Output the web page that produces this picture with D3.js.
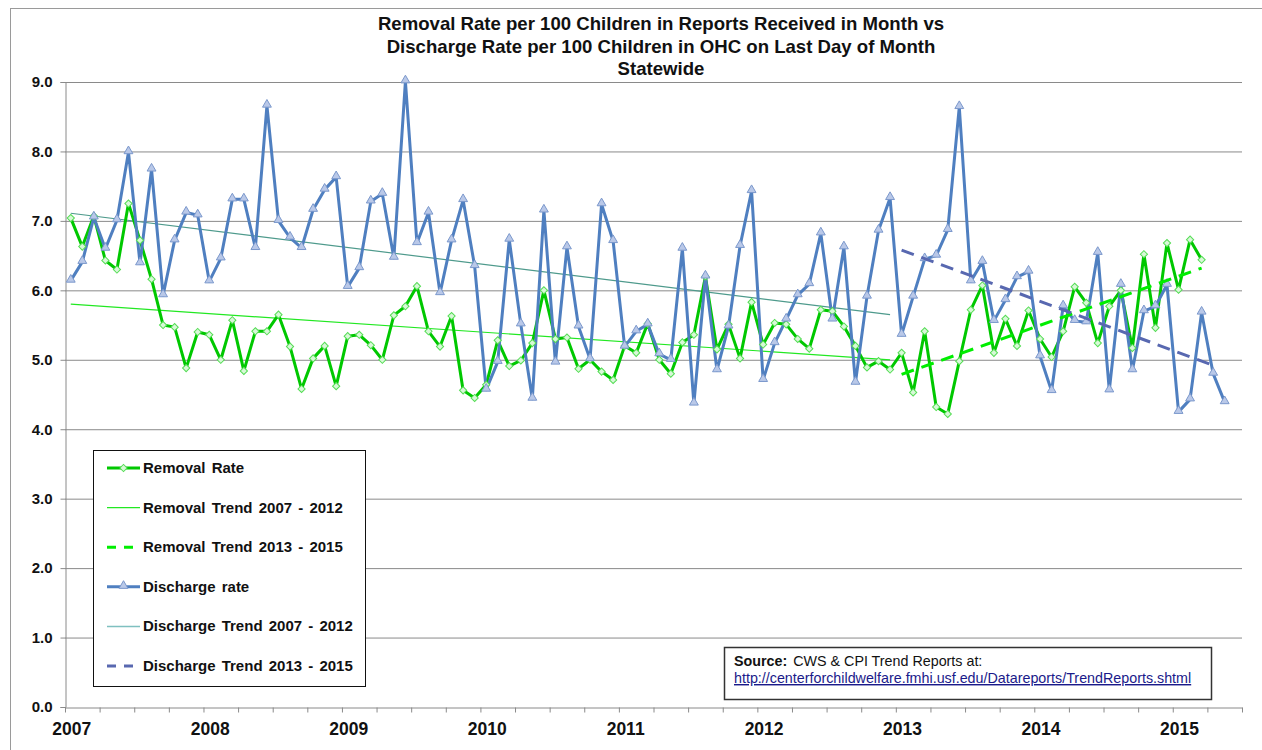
<!DOCTYPE html>
<html>
<head>
<meta charset="utf-8">
<script src="https://cdn.jsdelivr.net/npm/d3@7"></script>
<style>
  html, body { margin: 0; padding: 0; background: #fff; }
  svg { display: block; font-family: "Liberation Sans", Arial, sans-serif; }
</style>
</head>
<body>
<svg id="chart" width="1262" height="750"></svg>
<script>
// ---------------- DATA ----------------
const titleLines = [
  "Removal Rate per 100 Children in Reports Received in Month vs",
  "Discharge Rate per 100 Children in OHC on Last Day of Month",
  "Statewide"
];
const monthCount = 102; // Jan 2007 .. Jun 2015 on the axis
const yearLabels = ["2007", "2008", "2009", "2010", "2011", "2012", "2013", "2014", "2015"];
const yTicks = [0, 1, 2, 3, 4, 5, 6, 7, 8, 9];

// Removal Rate, Jan 2007 .. Mar 2015
const removalRate = [
  7.04, 6.63, 7.07, 6.43, 6.30, 7.25, 6.72, 6.16, 5.50, 5.47, 4.88, 5.40,
  5.36, 5.00, 5.57, 4.84, 5.41, 5.41, 5.65, 5.19, 4.58, 5.02, 5.20, 4.62,
  5.34, 5.36, 5.21, 5.00, 5.64, 5.77, 6.06, 5.41, 5.19, 5.63, 4.56, 4.45,
  4.64, 5.28, 4.91, 4.99, 5.24, 6.00, 5.30, 5.32, 4.87, 5.00, 4.83, 4.71,
  5.20, 5.10, 5.52, 5.00, 4.80, 5.25, 5.36, 6.20, 5.15, 5.51, 5.02, 5.83,
  5.22, 5.53, 5.51, 5.30, 5.16, 5.72, 5.70, 5.48, 5.20, 4.89, 4.98, 4.86,
  5.10, 4.53, 5.41, 4.32, 4.22, 4.98, 5.72, 6.07, 5.10, 5.59, 5.20, 5.71,
  5.30, 5.04, 5.41, 6.05, 5.82, 5.24, 5.77, 6.00, 5.17, 6.52, 5.46, 6.68,
  6.01, 6.73, 6.44
];
// Discharge rate, Jan 2007 .. May 2015
const dischargeRate = [
  6.14, 6.41, 7.05, 6.60, 7.01, 7.99, 6.39, 7.74, 5.93, 6.72, 7.12, 7.08,
  6.13, 6.46, 7.31, 7.31, 6.61, 8.66, 7.00, 6.76, 6.61, 7.16, 7.45, 7.63,
  6.05, 6.32, 7.28, 7.39, 6.47, 9.01, 6.68, 7.12, 5.96, 6.72, 7.30, 6.35,
  4.57, 4.97, 6.73, 5.51, 4.44, 7.15, 4.96, 6.62, 5.48, 5.01, 7.24, 6.71,
  5.19, 5.41, 5.51, 5.08, 5.00, 6.60, 4.37, 6.20, 4.85, 5.48, 6.64, 7.43,
  4.71, 5.24, 5.58, 5.93, 6.09, 6.82, 5.58, 6.62, 4.67, 5.91, 6.86, 7.33,
  5.36, 5.91, 6.45, 6.50, 6.87, 8.64, 6.13, 6.41, 5.56, 5.86, 6.19, 6.27,
  5.05, 4.55, 5.77, 5.56, 5.54, 6.54, 4.56, 6.08, 4.85, 5.70, 5.77, 6.08,
  4.25, 4.43, 5.68, 4.80, 4.39
];
// Trend lines: [start month index, end month index] and values at those months
const removalTrend0712Months = [0, 71];
const removalTrend0712 = [5.80, 5.00];
const removalTrend1315Months = [72, 98];
const removalTrend1315 = [4.79, 6.32];
const dischargeTrend0712Months = [0, 71];
const dischargeTrend0712 = [7.11, 5.65];
const dischargeTrend1315Months = [72, 99];
const dischargeTrend1315 = [6.58, 4.92];

const legendLabels = [
  "Removal Rate", "Removal Trend 2007 - 2012", "Removal Trend 2013 - 2015",
  "Discharge rate", "Discharge Trend 2007 - 2012", "Discharge Trend 2013 - 2015"
];
const sourceLabel = "Source:";
const sourceText = "CWS & CPI Trend Reports at:";
const sourceUrl = "http://centerforchildwelfare.fmhi.usf.edu/Datareports/TrendReports.shtml";

// ---------------- CHART ----------------
(function () {
const svg = d3.select("#chart");
const pLeft = 65, pRight = 1242, pTop = 82, pBottom = 707;

const xEdge = d3.scaleLinear().domain([0, monthCount]).range([pLeft, pRight]);
const xc = i => xEdge(i + 0.5);
const y = d3.scaleLinear().domain([0, 9]).range([pBottom, pTop]);

const C = {
  green: "#00c800",
  greenTrend: "#22e822",
  greenDash: "#00ee00",
  blue: "#4f7fc0",
  blueTrend: "#4e9a8c",
  blueDash: "#5868b0",
  grid: "#8a8a8a"
};

// chart outer border
svg.append("rect").attr("x", 10.5).attr("y", 8.5).attr("width", 1270).attr("height", 780)
  .attr("fill", "none").attr("stroke", "#9a9a9a").attr("stroke-width", 1);

// title
svg.append("g").selectAll("text").data(titleLines).join("text")
  .attr("x", 661).attr("y", (d, i) => 30 + i * 22.5)
  .attr("text-anchor", "middle").attr("font-weight", "bold").attr("font-size", 18.6)
  .attr("fill", "#111").text(d => d);

// gridlines
svg.append("g").selectAll("line").data(yTicks.filter(t => t > 0)).join("line")
  .attr("x1", pLeft).attr("x2", pRight).attr("y1", d => y(d) + 0.5).attr("y2", d => y(d) + 0.5)
  .attr("stroke", C.grid).attr("stroke-width", 1);

// y axis
const yAxis = svg.append("g").attr("transform", `translate(${pLeft + 0.5},0)`)
  .call(d3.axisLeft(y).tickValues(yTicks).tickFormat(d3.format(".1f")).tickSize(5).tickPadding(8));
yAxis.select(".domain").attr("stroke", C.grid);
yAxis.selectAll(".tick line").attr("stroke", C.grid);
yAxis.selectAll(".tick text").attr("font-size", 15).attr("font-weight", "bold")
  .attr("fill", "#111").attr("font-family", "Liberation Sans, Arial, sans-serif");

// x axis
const xAxis = svg.append("g").attr("transform", `translate(0,${pBottom + 0.5})`)
  .call(d3.axisBottom(xEdge).tickValues(d3.range(0, monthCount + 1, 3)).tickFormat("").tickSize(5).tickSizeOuter(0));
xAxis.select(".domain").attr("stroke", C.grid);
xAxis.selectAll(".tick line").attr("stroke", C.grid);
svg.append("g").selectAll("text").data(yearLabels).join("text")
  .attr("x", (d, i) => xc(i * 12) + 1).attr("y", 735)
  .attr("text-anchor", "middle").attr("font-weight", "bold").attr("font-size", 17.5)
  .attr("fill", "#111").text(d => d);

function trend(months, vals, color, width, dash) {
  const pts = months.map((m, i) => [xc(m), y(vals[i])]);
  svg.append("path").attr("d", d3.line()(pts)).attr("fill", "none")
    .attr("stroke", color).attr("stroke-width", width)
    .attr("stroke-dasharray", dash || null);
}
trend(removalTrend0712Months, removalTrend0712, C.greenTrend, 1.2);
trend(dischargeTrend0712Months, dischargeTrend0712, C.blueTrend, 1.2);

// series lines
const line = d3.line().x((d, i) => xc(i)).y(d => y(d));
svg.append("path").datum(removalRate).attr("d", line).attr("fill", "none")
  .attr("stroke", C.green).attr("stroke-width", 3).attr("stroke-linejoin", "round");
svg.append("path").datum(dischargeRate).attr("d", line).attr("fill", "none")
  .attr("stroke", C.blue).attr("stroke-width", 3).attr("stroke-linejoin", "round");

// markers
const diamond = d3.symbol().type(d3.symbolSquare).size(26)();
const tri = d3.symbol().type(d3.symbolTriangle).size(34)();
svg.append("g").selectAll("path").data(removalRate).join("path")
  .attr("d", diamond)
  .attr("transform", (d, i) => `translate(${xc(i)},${y(d)}) rotate(45)`)
  .attr("fill", "#d8f8d8").attr("stroke", "#55dd55").attr("stroke-width", 1);
svg.append("g").selectAll("path").data(dischargeRate).join("path")
  .attr("d", tri)
  .attr("transform", (d, i) => `translate(${xc(i)},${y(d) - 1})`)
  .attr("fill", "#b9c8e8").attr("stroke", "#7b98cc").attr("stroke-width", 1);

// dashed trends 2013-2015
trend(removalTrend1315Months, removalTrend1315, C.greenDash, 3, "13,8");
trend(dischargeTrend1315Months, dischargeTrend1315, C.blueDash, 3, "13,8");

// legend
const lg = svg.append("g");
lg.append("rect").attr("x", 93.5).attr("y", 450.5).attr("width", 272).attr("height", 236)
  .attr("fill", "#fff").attr("stroke", "#111").attr("stroke-width", 1);
const legY = i => 468 + i * 39.6;
const lx1 = 107, lx2 = 140;
lg.append("line").attr("x1", lx1).attr("x2", lx2).attr("y1", legY(0)).attr("y2", legY(0))
  .attr("stroke", C.green).attr("stroke-width", 3);
lg.append("path").attr("d", diamond).attr("transform", `translate(${(lx1 + lx2) / 2},${legY(0)}) rotate(45)`)
  .attr("fill", "#d8f8d8").attr("stroke", "#55dd55");
lg.append("line").attr("x1", lx1).attr("x2", lx2).attr("y1", legY(1)).attr("y2", legY(1))
  .attr("stroke", C.greenTrend).attr("stroke-width", 1.2);
lg.append("line").attr("x1", lx1).attr("x2", lx2).attr("y1", legY(2)).attr("y2", legY(2))
  .attr("stroke", C.greenDash).attr("stroke-width", 3).attr("stroke-dasharray", "9,8");
lg.append("line").attr("x1", lx1).attr("x2", lx2).attr("y1", legY(3)).attr("y2", legY(3))
  .attr("stroke", C.blue).attr("stroke-width", 3);
lg.append("path").attr("d", tri).attr("transform", `translate(${(lx1 + lx2) / 2},${legY(3) - 1})`)
  .attr("fill", "#b9c8e8").attr("stroke", "#7b98cc");
lg.append("line").attr("x1", lx1).attr("x2", lx2).attr("y1", legY(4)).attr("y2", legY(4))
  .attr("stroke", "#7fc0c0").attr("stroke-width", 1.5);
lg.append("line").attr("x1", lx1).attr("x2", lx2).attr("y1", legY(5)).attr("y2", legY(5))
  .attr("stroke", C.blueDash).attr("stroke-width", 3).attr("stroke-dasharray", "9,8");
lg.selectAll("text").data(legendLabels).join("text")
  .attr("x", 143).attr("y", (d, i) => legY(i) + 5)
  .attr("font-size", 15).attr("font-weight", "bold").attr("fill", "#111")
  .attr("word-spacing", 2).text(d => d);

// source box
const sg = svg.append("g");
sg.append("rect").attr("x", 724.5).attr("y", 647.5).attr("width", 487).attr("height", 52)
  .attr("fill", "#fff").attr("stroke", "#333").attr("stroke-width", 1.5);
const st = sg.append("text").attr("x", 734).attr("y", 666).attr("font-size", 14.3).attr("fill", "#111");
st.append("tspan").attr("font-weight", "bold").text(sourceLabel);
st.append("tspan").attr("dx", 6).text(sourceText);
sg.append("text").attr("x", 734).attr("y", 683).attr("font-size", 14.3)
  .attr("fill", "#1a1a8a").attr("text-decoration", "underline").text(sourceUrl);
})();
</script>
</body>
</html>
